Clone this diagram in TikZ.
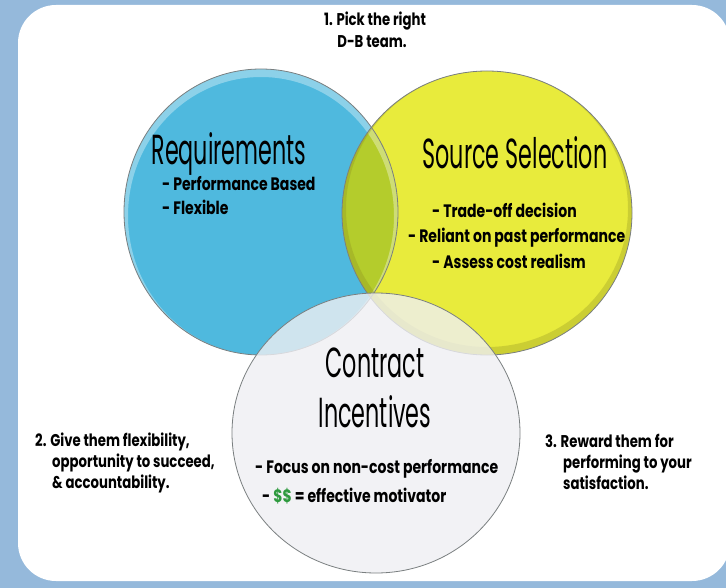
\documentclass[tikz,border=0pt]{standalone}
\usepackage{fontspec}
\setmainfont{Poppins}
\newfontfamily\headfont{Poppins}[FakeStretch=0.53]
\newfontfamily\notefont{Poppins}[FakeStretch=0.78]
\usepackage{tikz}
\usetikzlibrary{positioning}

\definecolor{frameblue}{HTML}{95B9DB}
\definecolor{reqblue}{HTML}{4FB9DE}
\definecolor{srcyellow}{HTML}{E8EB3C}
\definecolor{mixgreen}{HTML}{B4CC2C}
\definecolor{discin}{HTML}{EFEFF3}
\definecolor{discout}{HTML}{D2D3D8}
\definecolor{rimgray}{HTML}{7A7F80}
\definecolor{moneygreen}{HTML}{2E9A3E}
\definecolor{oliveshade}{HTML}{8A8C20}

\pgfdeclareradialshading{discshade}{\pgfpoint{0bp}{0bp}}{color(0bp)=(discin); color(38bp)=(discin); color(50bp)=(discout)}

\begin{document}
\begin{tikzpicture}
[x=1pt, y=-1pt,
headnode/.style={font=\headfont\fontsize{42}{46}\selectfont, anchor=base, inner sep=0pt},
itemnode/.style={font=\notefont\bfseries\fontsize{18}{22}\selectfont, anchor=base west, inner sep=0pt},
stepnote/.style={font=\notefont\bfseries\fontsize{17}{21}\selectfont, anchor=base west, inner sep=0pt},
rim/.style={draw=rimgray, line width=0.8pt},
]
\useasboundingbox (0,0) rectangle (726,588);
\begin{scope}
\clip (0,0) rectangle (726,588);
\fill[frameblue] (0,0) rectangle (726,588);
\fill[white, rounded corners=38pt] (18,5) rectangle (730,581);
\end{scope}

% the three sets
\fill[reqblue] (261,212) ellipse [x radius=137, y radius=143];
\fill[srcyellow] (487,213) ellipse [x radius=145, y radius=142];
\begin{scope}
\clip (261,212) ellipse [x radius=137, y radius=143];
\fill[mixgreen] (487,213) ellipse [x radius=145, y radius=142];
\draw[white, line width=8pt, opacity=0.35] (261,216) ellipse [x radius=137, y radius=143];
\end{scope}
\begin{scope}
\clip (487,213) ellipse [x radius=145, y radius=142];
\draw[oliveshade, line width=8pt, opacity=0.3] (487,209) ellipse [x radius=145, y radius=142];
\end{scope}
\draw[rim] (261,212) ellipse [x radius=137, y radius=143];
\draw[rim] (487,213) ellipse [x radius=145, y radius=142];
\shade[shading=discshade, fill opacity=0.8] (376,433) ellipse [x radius=144, y radius=140];
\draw[rim] (376,433) ellipse [x radius=144, y radius=140];

% titles
\node[headnode] (req) at (229,165) {Requirements};
\node[headnode] (src) at (515,169) {Source Selection};
\node[headnode] (con) at (375,377) {Contract};
\node[headnode] (inc) at (375,427) {Incentives};

% bullet lines
\node[itemnode] (req1) at (162,191) {- Performance Based};
\node[itemnode] (req2) at (162,215) {- Flexible};
\node[itemnode] (src1) at (432,218) {- Trade-off decision};
\node[itemnode] (src2) at (408,243) {- Reliant on past performance};
\node[itemnode] (src3) at (432,269) {- Assess cost realism};
\node[itemnode] (inc1) at (255,473) {- Focus on non-cost performance};
\node[itemnode] (inc2) at (262,502) {- {\color{moneygreen}\$\$} = effective motivator};

% numbered steps
\node[stepnote, anchor=base] (step1a) at (375,26) {1. Pick the right};
\node[stepnote, anchor=base] (step1b) at (372,48) {D-B team.};
\node[stepnote] (step2a) at (35,446) {2. Give them flexibility,};
\node[stepnote] (step2b) at (52,467) {opportunity to succeed,};
\node[stepnote] (step2c) at (52,488) {\& accountability.};
\node[stepnote] (step3a) at (545,447) {3. Reward them for};
\node[stepnote] (step3b) at (563,468) {performing to your};
\node[stepnote] (step3c) at (563,489) {satisfaction.};
\end{tikzpicture}
\end{document}
